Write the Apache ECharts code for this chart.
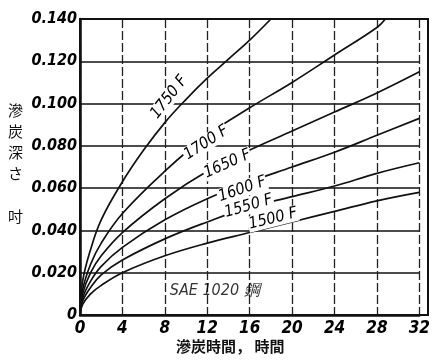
<!DOCTYPE html>
<html>
<head>
<meta charset="utf-8">
<script src="https://cdn.jsdelivr.net/npm/echarts@6/dist/echarts.min.js"></script>
<style>
html,body{margin:0;padding:0;background:#fff;}
#c{width:433px;height:361px;}
</style>
</head>
<body>
<div id="c"></div>
<script>
// ---- data (hours vs. carburized depth, inch) ----
const xTicks = [0, 4, 8, 12, 16, 20, 24, 28, 32];
const yTicks = [0, 0.020, 0.040, 0.060, 0.080, 0.100, 0.120, 0.140];

const hours1750 = [0, 0.25, 1, 2, 4, 6, 8, 10, 12, 14, 16, 18];
const depth1750 = [0, 0.016, 0.031, 0.045, 0.063, 0.078, 0.091, 0.102, 0.112, 0.121, 0.130, 0.140];

const hours1700 = [0, 0.25, 1, 2, 4, 8, 12, 16, 20, 24, 28, 28.8];
const depth1700 = [0, 0.012, 0.024, 0.034, 0.048, 0.068, 0.085, 0.098, 0.110, 0.123, 0.136, 0.140];

const hours1650 = [0, 0.25, 1, 2, 4, 8, 12, 16, 20, 24, 28, 32];
const depth1650 = [0, 0.010, 0.020, 0.028, 0.039, 0.055, 0.068, 0.078, 0.087, 0.096, 0.105, 0.115];

const hours1600 = [0, 0.25, 1, 2, 4, 8, 12, 16, 20, 24, 28, 32];
const depth1600 = [0, 0.008, 0.016, 0.023, 0.032, 0.045, 0.055, 0.063, 0.070, 0.077, 0.085, 0.093];

const hours1550 = [0, 0.25, 1, 2, 4, 8, 12, 16, 20, 24, 28, 32];
const depth1550 = [0, 0.0065, 0.013, 0.019, 0.026, 0.036, 0.044, 0.051, 0.056, 0.061, 0.067, 0.072];

const hours1500 = [0, 0.25, 1, 2, 4, 8, 12, 16, 20, 24, 28, 32];
const depth1500 = [0, 0.005, 0.010, 0.014, 0.020, 0.028, 0.034, 0.039, 0.044, 0.049, 0.054, 0.058];

const curveNames = ['1750 F', '1700 F', '1650 F', '1600 F', '1550 F', '1500 F'];
// label anchors (hour, depth) and text angle
const labelHours = [8.4, 11.9, 13.9, 15.3, 15.9, 18.2];
const labelDepth = [0.103, 0.0815, 0.0715, 0.0595, 0.0515, 0.0455];
const labelAngle = [52, 33, 24, 19, 16, 14];

const noteText = 'SAE 1020 鋼';
const yName = '滲\n炭\n深\nさ';
const yUnit = '吋';
const xName = '滲炭時間， 時間';

// -----------------------------------------------------------------------
const hoursAll = [hours1750, hours1700, hours1650, hours1600, hours1550, hours1500];
const depthAll = [depth1750, depth1700, depth1650, depth1600, depth1550, depth1500];
const FONT = "'Liberation Sans Narrow','DejaVu Sans Condensed','Liberation Sans',sans-serif";

const series = hoursAll.map((hs, i) => ({
  name: curveNames[i],
  type: 'line',
  data: hs.map((h, k) => [h, depthAll[i][k]]),
  smooth: 0.4,
  showSymbol: false,
  symbol: 'none',
  clip: true,
  lineStyle: { color: '#111', width: 1.7 },
  z: 3,
  markPoint: {
    symbol: 'rect',
    symbolSize: 0,
    data: [{
      coord: [labelHours[i], labelDepth[i]],
      label: {
        show: true,
        formatter: curveNames[i],
        rotate: labelAngle[i],
        color: '#000',
        fontFamily: FONT,
        fontStyle: 'italic',
        fontSize: 16,
        backgroundColor: '#fff',
        padding: [0, 1],
        position: 'inside'
      }
    }]
  }
}));

// SAE note
series.push({
  type: 'scatter',
  data: [[12.7, 0.0115]],
  symbolSize: 0,
  silent: true,
  label: {
    show: true,
    position: 'inside',
    formatter: noteText,
    color: '#000',
    fontFamily: FONT,
    fontStyle: 'italic',
    fontSize: 16
  }
});

const chart = echarts.init(document.getElementById('c'), null, { renderer: 'canvas' });
chart.setOption({
  animation: false,
  backgroundColor: '#fff',
  grid: { left: 80, right: 5, top: 19, bottom: 46 },
  xAxis: {
    type: 'value', min: 0, max: 32, interval: 4,
    axisLine: { show: true, lineStyle: { color: '#111', width: 2.5 } },
    axisTick: { show: false },
    splitLine: { show: true, lineStyle: { color: '#222', width: 1.3, type: [9, 3] } },
    axisLabel: {
      color: '#000', fontFamily: FONT, fontStyle: 'italic', fontWeight: 'bold', fontSize: 17, margin: 5,
      formatter: v => xTicks.includes(v) ? String(v) : ''
    }
  },
  yAxis: {
    type: 'value', min: 0, max: 0.14, interval: 0.02,
    axisLine: { show: true, lineStyle: { color: '#111', width: 2.5 } },
    axisTick: { show: false },
    splitLine: { show: true, lineStyle: { color: '#111', width: 1.5 } },
    axisLabel: {
      color: '#000', fontFamily: FONT, fontStyle: 'italic', fontWeight: 'bold', fontSize: 16, margin: 3,
      formatter: v => {
        const t = yTicks.find(y => Math.abs(y - v) < 1e-9);
        if (t === undefined) return '';
        return t === 0 ? '0' : t.toFixed(3);
      }
    }
  },
  graphic: [
    { type: 'rect', shape: { x: 80, y: 19, width: 348, height: 296 }, style: { fill: 'none', stroke: '#111', lineWidth: 2 }, z: 10, silent: true },
    { type: 'text', left: 8, top: 100, style: { text: yName, font: "15px 'Noto Sans CJK JP'", fill: '#111', lineHeight: 21 } },
    { type: 'text', left: 8, top: 209, style: { text: yUnit, font: "15px 'Noto Sans CJK JP'", fill: '#111' } },
    { type: 'text', left: 176, top: 339, style: { text: xName, font: "bold 15px 'Noto Sans CJK JP'", fill: '#111' } }
  ],
  series: series
});
</script>
</body>
</html>
